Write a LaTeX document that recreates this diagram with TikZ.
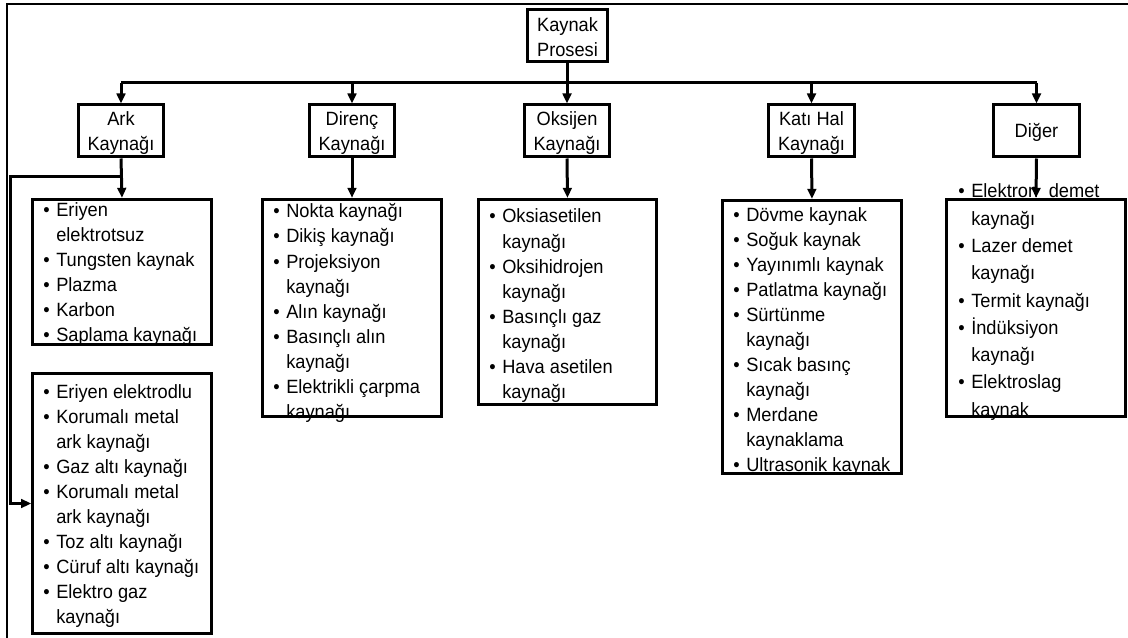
\documentclass[tikz,border=0pt]{standalone}
\usepackage{fontspec}
\setmainfont{Liberation Sans}[FakeStretch=0.95]
\usetikzlibrary{arrows.meta}
\tikzset{
  box/.style={draw, line width=2.25pt, inner sep=0pt},
  lvtwo/.style={box, minimum width=64pt, minimum height=39pt},
  lvtext/.style={inner sep=0pt, align=center, font=\fontsize{14.4}{18.75}\selectfont},
  lt/.style={anchor=base west, inner sep=0pt, font=\fontsize{14.4}{16}\selectfont},
  conn/.style={line width=2.25pt},
  arr/.style={conn, -{Triangle[length=7.5pt,width=6.5pt]}},
  frame/.style={line width=1.1pt},
}
\newcommand\mylist[5]{%
  \foreach \isb/\txt [count=\i from 0] in {#5}{%
    \node[lt] (#1-\i) at (#2+25, #3+\i*#4) {\txt};
    \ifnum\isb=1 \node[lt] (#1-b\i) at (#2+12, #3+\i*#4) {\textbullet}; \fi
  }%
}
\begin{document}
\begin{tikzpicture}[x=0.75pt, y=-0.75pt]
\useasboundingbox (0,0) rectangle (1128,638);
% frame
\draw[frame] (7,638) -- (7,4) -- (1128,4);
% top
\node[lvtwo, minimum width=60pt] (top) at (567.5,36) {};
\node[lvtext] (top-t) at (567.5,37.5) {Kaynak\\Prosesi};
% level 2
\node[lvtwo] (ark) at (121,131) {};
\node[lvtwo] (dir) at (352,131) {};
\node[lvtwo] (oks) at (567,131) {};
\node[lvtwo] (kat) at (811.5,131) {};
\node[lvtwo] (dig) at (1036.5,131) {};
\node[lvtext] (ark-t) at (121,133.5) {Ark\\Kaynağı};
\node[lvtext] (dir-t) at (352,133.5) {Direnç\\Kaynağı};
\node[lvtext] (oks-t) at (567,133.5) {Oksijen\\Kaynağı};
\node[lvtext] (kat-t) at (811.5,133.5) {Katı Hal\\Kaynağı};
\node[lvtext] (dig-t) at (1036.5,132) {Diğer};
% level 3 boxes
\node[box, minimum width=134pt, minimum height=109pt] (arkA) at (122,272) {};
\node[box, minimum width=134pt, minimum height=195pt] (arkB) at (122,503.5) {};
\node[box, minimum width=134pt, minimum height=163pt] (dirL) at (352,308) {};
\node[box, minimum width=134pt, minimum height=154pt] (oksL) at (567.5,302) {};
\node[box, minimum width=134pt, minimum height=205pt] (katL) at (812,337) {};
\node[box, minimum width=134pt, minimum height=163pt] (digL) at (1036,308) {};
% connectors
\coordinate (bus) at (0,83);
\draw[conn] (top.south) -- (top.south |- bus);
\draw[conn] (ark.north |- bus) -- (dig.north |- bus);
\foreach \n in {ark,dir,oks,kat,dig}{
  \draw[arr] (\n.north |- bus) -- (\n.north);
}
\draw[arr] (ark.south) -- (arkA.north);
\draw[arr] (dir.south) -- (dirL.north);
\draw[arr] (oks.south) -- (oksL.north);
\draw[arr] (kat.south) -- (katL.north);
\draw[arr] (dig.south) -- (digL.north);
\coordinate (abr) at (121,177);
\coordinate (aleft) at (10,177);
\draw[arr] (abr) -- (aleft) |- (arkB.west);
% lists
\mylist{ta}{31}{216}{25}{1/Eriyen, 0/elektrotsuz, 1/Tungsten kaynak, 1/Plazma, 1/Karbon, 1/Saplama kaynağı}
\mylist{tb}{31}{398}{25}{1/Eriyen elektrodlu, 1/Korumalı metal, 0/ark kaynağı, 1/Gaz altı kaynağı, 1/Korumalı metal, 0/ark kaynağı, 1/Toz altı kaynağı, 1/Cüruf altı kaynağı, 1/Elektro gaz, 0/kaynağı}
\mylist{td}{261}{218}{25}{1/Nokta kaynağı, 1/Dikiş kaynağı, 1/Projeksiyon, 0/kaynağı, 1/Alın kaynağı, 1/Basınçlı alın, 0/kaynağı, 1/Elektrikli çarpma, 0/kaynağı}
\mylist{to}{477}{223}{25}{1/Oksiasetilen, 0/kaynağı, 1/Oksihidrojen, 0/kaynağı, 1/Basınçlı gaz, 0/kaynağı, 1/Hava asetilen, 0/kaynağı}
\mylist{tk}{721}{221}{25}{1/Dövme kaynak, 1/Soğuk kaynak, 1/Yayınımlı kaynak, 1/Patlatma kaynağı, 1/Sürtünme, 0/kaynağı, 1/Sıcak basınç, 0/kaynağı, 1/Merdane, 0/kaynaklama, 1/Ultrasonik kaynak}
\mylist{tg}{946}{198}{27.25}{1/Elektron\hspace{8pt}demet, 0/kaynağı, 1/Lazer demet, 0/kaynağı, 1/Termit kaynağı, 1/İndüksiyon, 0/kaynağı, 1/Elektroslag, 0/kaynak}
\end{tikzpicture}
\end{document}
